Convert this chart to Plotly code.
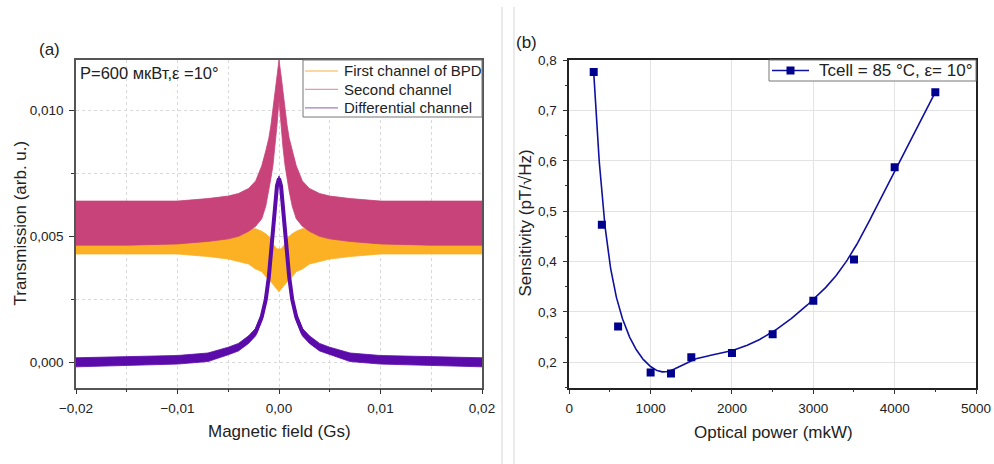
import numpy as np
import plotly.graph_objects as go

# ---------------- Panel (a): envelopes ----------------
field_gs = [-0.02, -0.015, -0.01, -0.007, -0.005, -0.004, -0.003, -0.0023, -0.0017, -0.0013,
            -0.001, -0.0008, -0.0006, -0.0004, -0.0002, 0.0, 0.0002, 0.0004, 0.0006, 0.0008,
            0.001, 0.0013, 0.0017, 0.0023, 0.003, 0.004, 0.005, 0.007, 0.01, 0.015, 0.02]

first_upper = [0.0050, 0.0050, 0.0050, 0.0050, 0.0051, 0.0052, 0.0053, 0.0053, 0.0052, 0.0051,
               0.0050, 0.0049, 0.0047, 0.0046, 0.0045, 0.0045, 0.0045, 0.0046, 0.0047, 0.0049,
               0.0050, 0.0051, 0.0052, 0.0053, 0.0053, 0.0052, 0.0051, 0.0050, 0.0050, 0.0050, 0.0050]
first_lower = [0.0043, 0.0043, 0.0043, 0.0042, 0.0041, 0.0040, 0.0039, 0.0037, 0.0036, 0.0034,
               0.0033, 0.0032, 0.0031, 0.0030, 0.0029, 0.0028, 0.0029, 0.0030, 0.0031, 0.0032,
               0.0033, 0.0034, 0.0036, 0.0037, 0.0039, 0.0040, 0.0041, 0.0042, 0.0043, 0.0043, 0.0043]

second_upper = [0.0064, 0.0064, 0.0064, 0.0065, 0.0066, 0.0067, 0.0069, 0.0072, 0.0078, 0.0084,
                0.0089, 0.0094, 0.0100, 0.0107, 0.0114, 0.0120, 0.0114, 0.0107, 0.0100, 0.0094,
                0.0089, 0.0084, 0.0078, 0.0072, 0.0069, 0.0067, 0.0066, 0.0065, 0.0064, 0.0064, 0.0064]
second_lower = [0.00465, 0.00465, 0.0047, 0.0048, 0.0049, 0.0050, 0.0052, 0.0054, 0.0057, 0.0062,
                0.0068, 0.0073, 0.0078, 0.0085, 0.0094, 0.0104, 0.0094, 0.0085, 0.0078, 0.0073,
                0.0068, 0.0062, 0.0057, 0.0054, 0.0052, 0.0050, 0.0049, 0.0048, 0.0047, 0.00465, 0.00465]

diff_center = [0.0000, 0.00005, 0.0001, 0.0002, 0.00045, 0.0006, 0.0009, 0.0012, 0.0018, 0.0025,
               0.0034, 0.0042, 0.0050, 0.0061, 0.0070, 0.0073, 0.0070, 0.0061, 0.0050, 0.0042,
               0.0034, 0.0025, 0.0018, 0.0012, 0.0009, 0.0006, 0.00045, 0.0002, 0.0001, 0.00005, 0.0000]
diff_upper = [0.00018, 0.00022, 0.00027, 0.00037, 0.0006, 0.00075, 0.00105, 0.00135, 0.00195, 0.00265,
              0.00355, 0.00435, 0.00515, 0.00625, 0.00715, 0.0074, 0.00715, 0.00625, 0.00515, 0.00435,
              0.00355, 0.00265, 0.00195, 0.00135, 0.00105, 0.00075, 0.0006, 0.00037, 0.00027, 0.00022, 0.00018]
diff_lower = [-0.00018, -0.00012, -0.00007, 0.00003, 0.0003, 0.00045, 0.00075, 0.00105, 0.00165, 0.00235,
              0.00325, 0.00405, 0.00485, 0.00595, 0.00685, 0.0072, 0.00685, 0.00595, 0.00485, 0.00405,
              0.00325, 0.00235, 0.00165, 0.00105, 0.00075, 0.00045, 0.0003, 0.00003, -0.00007, -0.00012, -0.00018]

# ---------------- Panel (b): sensitivity vs optical power ----------------
power_mkw = [300, 400, 600, 1000, 1250, 1500, 2000, 2500, 3000, 3500, 4000, 4500]
sensitivity = [0.776, 0.473, 0.271, 0.180, 0.178, 0.210, 0.2185, 0.2555, 0.322, 0.404, 0.587, 0.736]

series_names = ["First channel of BPD", "Second channel", "Differential channel"]
legend_b = "Tcell = 85 °C, ε= 10°"

C_FIRST = "#FCB023"
C_SECOND = "#C8437A"
C_DIFF = "#5B0BAA"
LEG_COLORS = ["#FBCB80", "#E39AB8", "#A07CCB"]
C_NAVY = "#00008E"
C_CURVE = "#1010A0"
FONT = "Liberation Sans"


def clamped_bspline(cx, cy, k=3, n=500):
    cx = np.asarray(cx, float)
    cy = np.asarray(cy, float)
    m = len(cx)
    knots = np.concatenate([np.zeros(k), np.arange(0, m - k + 1), np.full(k, m - k)]).astype(float)
    t = np.linspace(0, m - k, n)
    t[-1] -= 1e-9
    N = np.array([((knots[i] <= t) & (t < knots[i + 1])).astype(float) for i in range(len(knots) - 1)])
    for p in range(1, k + 1):
        Nn = np.zeros((len(knots) - 1 - p, len(t)))
        for i in range(len(knots) - 1 - p):
            d1 = knots[i + p] - knots[i]
            d2 = knots[i + p + 1] - knots[i + 1]
            a = (t - knots[i]) / d1 * N[i] if d1 > 0 else 0
            b = (knots[i + p + 1] - t) / d2 * N[i + 1] if d2 > 0 else 0
            Nn[i] = a + b
        N = Nn
    return N.T @ cx, N.T @ cy


def band(x, up, lo):
    return list(x) + list(x)[::-1], list(up) + list(lo)[::-1]


fig = go.Figure()

for up, lo, col, nm in [(first_upper, first_lower, C_FIRST, series_names[0]),
                        (second_upper, second_lower, C_SECOND, series_names[1]),
                        (diff_upper, diff_lower, C_DIFF, series_names[2])]:
    bx, by = band(field_gs, up, lo)
    fig.add_trace(go.Scatter(x=bx, y=by, fill="toself", fillcolor=col, mode="lines", name=nm,
                             line=dict(width=0.8, color=col), showlegend=False,
                             hoverinfo="skip", xaxis="x", yaxis="y"))

fig.add_trace(go.Scatter(x=field_gs, y=diff_center, mode="lines", line=dict(width=4, color=C_DIFF),
                         name=series_names[2], showlegend=False, xaxis="x", yaxis="y"))

# panel (b)
sx, sy = clamped_bspline(power_mkw, sensitivity)
fig.add_trace(go.Scatter(x=sx, y=sy, mode="lines", line=dict(color=C_CURVE, width=1.6),
                         name=legend_b, showlegend=False, xaxis="x2", yaxis="y2"))
fig.add_trace(go.Scatter(x=power_mkw, y=sensitivity, mode="markers", name=legend_b,
                         marker=dict(symbol="square", size=8, color=C_NAVY),
                         showlegend=False, xaxis="x2", yaxis="y2"))

W, H = 994, 464
def px(x):
    return x / W
def py(y):
    return 1 - y / H

top, bottom = 60, 387.5
tickfont = dict(family=FONT, size=13.5, color="#222")

common_axis = dict(showline=True, mirror=True, linewidth=1.5, ticks="outside", ticklen=5,
                   tickwidth=1.2, tickcolor="#333", tickfont=tickfont, zeroline=False,
                   ticklabelstandoff=3, automargin=False)

fig.update_layout(
    width=W, height=H, margin=dict(l=0, r=0, t=0, b=0, autoexpand=False),
    paper_bgcolor="white", plot_bgcolor="white",
    separators=", ",
    font=dict(family=FONT, color="#222"),
    showlegend=False,
    xaxis=dict(domain=[px(76), px(482)], range=[-0.02, 0.02], dtick=0.01, tick0=0,
               tickformat=".2f", linecolor="#555", showgrid=True, gridcolor="#d9d9d9",
               griddash="dot", gridwidth=1,
               minor=dict(dtick=0.005, tick0=0, ticks="outside", ticklen=3, tickcolor="#333",
                          showgrid=True, gridcolor="#d9d9d9", griddash="dot"),
               anchor="y", **common_axis),
    yaxis=dict(domain=[py(bottom), py(top)], range=[-0.001, 0.012], dtick=0.005, tick0=0,
               tickformat=".3f", linecolor="#555", showgrid=True, gridcolor="#d9d9d9",
               griddash="dot", gridwidth=1,
               minor=dict(dtick=0.0025, tick0=0, ticks="outside", ticklen=3, tickcolor="#333",
                          showgrid=True, gridcolor="#d9d9d9", griddash="dot"),
               anchor="x", **common_axis),
    xaxis2=dict(domain=[px(569.3), px(976)], range=[0, 5000], dtick=1000, tick0=0,
                linecolor="#222", showgrid=True, gridcolor="#e3e3e3", gridwidth=1,
                minor=dict(dtick=500, tick0=0, ticks="outside", ticklen=3, tickcolor="#333",
                           showgrid=False),
                anchor="y2", **common_axis),
    yaxis2=dict(domain=[py(bottom), py(top)], range=[0.15, 0.8], dtick=0.1, tick0=0,
                tickformat=".1f", linecolor="#222", showgrid=True, gridcolor="#e3e3e3",
                gridwidth=1,
                minor=dict(dtick=0.05, tick0=0, ticks="outside", ticklen=3, tickcolor="#333",
                           showgrid=False),
                anchor="x2", **common_axis),
)

# legend of panel (a): box, sample lines and labels
fig.add_shape(type="rect", xref="paper", yref="paper", x0=px(303), x1=px(482), y0=py(117), y1=py(60),
              line=dict(color="#777", width=1), fillcolor="white", layer="above")
for i, (name, col) in enumerate(zip(series_names, LEG_COLORS)):
    yc = 71 + 18.4 * i
    fig.add_shape(type="line", xref="paper", yref="paper", x0=px(305), x1=px(338), y0=py(yc), y1=py(yc),
                  line=dict(color=col, width=1.3), layer="above")
    fig.add_annotation(text=name, x=px(342), y=py(yc), xref="paper", yref="paper",
                       xanchor="left", yanchor="middle", showarrow=False,
                       font=dict(family=FONT, size=15, color="#222"))

# legend of panel (b)
fig.add_shape(type="rect", xref="paper", yref="paper", x0=px(769), x1=px(976), y0=py(81), y1=py(60),
              line=dict(color="#777", width=1), fillcolor="white", layer="above")
fig.add_shape(type="line", xref="paper", yref="paper", x0=px(772), x1=px(809), y0=py(70.5), y1=py(70.5),
              line=dict(color=C_CURVE, width=1.6), layer="above")
fig.add_shape(type="rect", xref="paper", yref="paper", x0=px(786.5), x1=px(794.5), y0=py(74.5), y1=py(66.5),
              line=dict(width=0), fillcolor=C_NAVY, layer="above")
fig.add_annotation(text=legend_b, x=px(817), y=py(70.5), xref="paper", yref="paper",
                   xanchor="left", yanchor="middle", showarrow=False,
                   font=dict(family=FONT, size=17, color="#222"))

annots = [
    dict(text="(a)", x=px(37), y=py(49), xanchor="left", yanchor="middle", size=17),
    dict(text="(b)", x=px(514), y=py(43), xanchor="left", yanchor="middle", size=17),
    dict(text="P=600 мкВт,ε =10°", x=px(78), y=py(73), xanchor="left", yanchor="middle", size=16.5),
    dict(text="Magnetic field (Gs)", x=px(279), y=py(431), xanchor="center", yanchor="middle", size=17),
    dict(text="Optical power (mkW)", x=px(773), y=py(432), xanchor="center", yanchor="middle", size=17),
]
for a in annots:
    fig.add_annotation(text=a["text"], x=a["x"], y=a["y"], xref="paper", yref="paper",
                       xanchor=a["xanchor"], yanchor=a["yanchor"], showarrow=False,
                       font=dict(family=FONT, size=a["size"], color="#222"))
for txt, xc in [("Transmission (arb. u.)", 20), ("Sensitivity (pT/√Hz)", 525)]:
    fig.add_annotation(text=txt, x=px(xc), y=py(223.5), xref="paper", yref="paper",
                       xanchor="center", yanchor="middle", textangle=-90, showarrow=False,
                       font=dict(family=FONT, size=17, color="#222"))

for xl in (502, 514):
    fig.add_shape(type="line", xref="paper", yref="paper", x0=px(xl), x1=px(xl),
                  y0=0, y1=py(7), line=dict(color="#d6d6d6", width=1))

fig.write_html("out.html")
